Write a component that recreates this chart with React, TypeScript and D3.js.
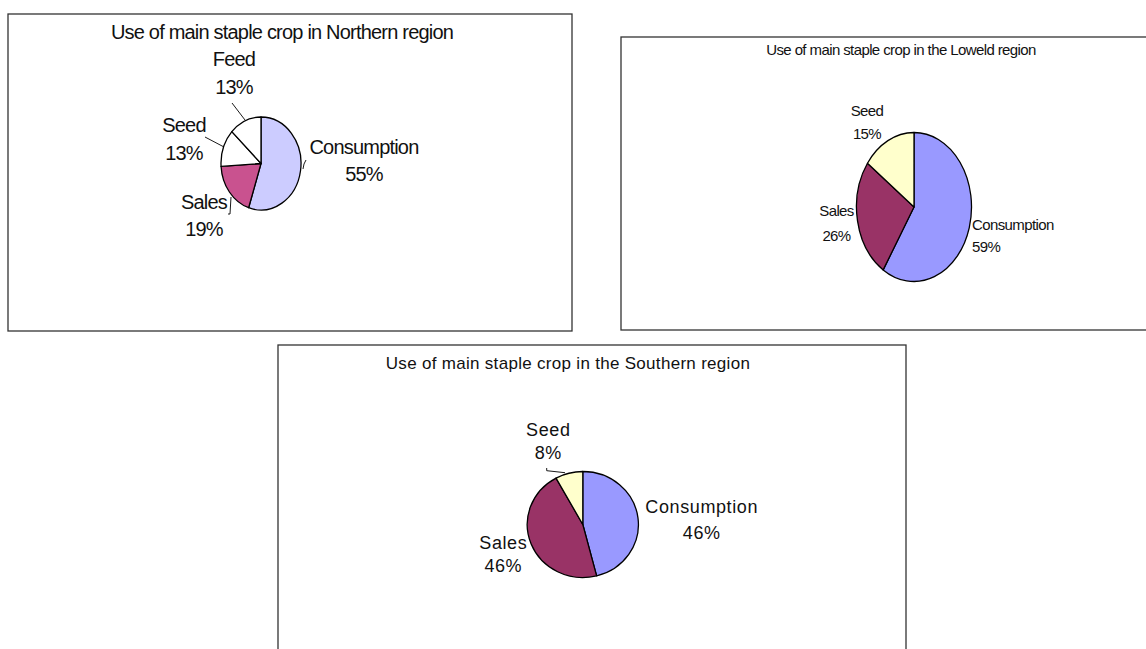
import React from 'react';
import * as d3 from 'd3';

// ---- data ----
const northCategories = ['Consumption', 'Sales', 'Seed', 'Feed'];
const northValues = [55, 19, 13, 13];

const lowveldCategories = ['Consumption', 'Sales', 'Seed'];
const lowveldValues = [59, 26, 15];

const southCategories = ['Consumption', 'Sales', 'Seed'];
const southValues = [46, 46, 8];

const northTitle = 'Use of main staple crop in Northern region';
const lowveldTitle = 'Use of main staple crop in the Loweld region';
const southTitle = 'Use of main staple crop in the Southern region';

// ---- layout ----
type Pt = [number, number];
interface PanelProps {
  title: string;
  categories: string[];
  values: number[];
  colors: string[];
  box: { x: number; y: number; w: number; h: number };
  titlePos: { x: number; y: number; size: number; ls: number };
  pie: { cx: number; cy: number; rx: number; ry: number };
  font: { size: number; ls: number };
  labels: { x: number; y1: number; y2: number; anchor: 'start' | 'middle' }[];
  leaders: Pt[][];
}

const FONT = '"Liberation Sans", Arial, Helvetica, sans-serif';

function PiePanel(p: PanelProps) {
  const pie = d3.pie<number>().sort(null).value((d: number) => d);
  const arcs = pie(p.values);
  const arc = d3.arc<d3.PieArcDatum<number>>().innerRadius(0).outerRadius(1);
  const base = (c: number, s: number) => c + 0.36 * s;
  const line = d3.line<Pt>();

  return (
    <g>
      <rect x={p.box.x} y={p.box.y} width={p.box.w} height={p.box.h}
        fill="#fff" stroke="#333" strokeWidth={1.3} />
      <text x={p.titlePos.x} y={base(p.titlePos.y, p.titlePos.size)} textAnchor="middle"
        fontSize={p.titlePos.size} letterSpacing={p.titlePos.ls} fill="#111" fontFamily={FONT}>
        {p.title}
      </text>
      <g transform={`translate(${p.pie.cx},${p.pie.cy}) scale(${p.pie.rx},${p.pie.ry})`}>
        {arcs.map((a, i) => (
          <path key={i} d={arc(a) as string} fill={p.colors[i]} stroke="#000"
            strokeWidth={1.3} vectorEffect="non-scaling-stroke" strokeLinejoin="round" />
        ))}
      </g>
      {p.leaders.map((pts, i) => (
        <path key={i} d={line(pts) as string} fill="none" stroke="#000" strokeWidth={0.9} />
      ))}
      {p.categories.map((c, i) => {
        const l = p.labels[i];
        const pct = `${Math.round((p.values[i] / d3.sum(p.values)) * 100)}%`;
        return (
          <g key={c} fontFamily={FONT} fontSize={p.font.size} letterSpacing={p.font.ls}
            fill="#111" textAnchor={l.anchor}>
            <text x={l.x} y={base(l.y1, p.font.size)}>{c}</text>
            <text x={l.x} y={base(l.y2, p.font.size)}>{pct}</text>
          </g>
        );
      })}
    </g>
  );
}

export default function App() {
  return (
    <svg width={1146} height={649} style={{ position: 'absolute', left: 0, top: 0, background: '#fff' }}>
      <PiePanel
        title={northTitle}
        categories={northCategories}
        values={northValues}
        colors={['#CCCCFF', '#C9528F', '#FFFFFF', '#FFFFFF']}
        box={{ x: 8, y: 14, w: 564, h: 317 }}
        titlePos={{ x: 282, y: 32, size: 20, ls: -0.8 }}
        pie={{ cx: 261, cy: 163.5, rx: 40, ry: 46.5 }}
        font={{ size: 20, ls: -0.8 }}
        labels={[
          { x: 364, y1: 147, y2: 174, anchor: 'middle' },
          { x: 204, y1: 201.7, y2: 228.3, anchor: 'middle' },
          { x: 184, y1: 125, y2: 152.7, anchor: 'middle' },
          { x: 234, y1: 58.3, y2: 86.7, anchor: 'middle' },
        ]}
        leaders={[
          [[303, 169], [304, 164], [306, 160]],
          [[228, 214], [230, 214], [231, 197]],
          [[205, 137], [224, 147]],
          [[232, 103], [245, 120]],
        ]}
      />
      <PiePanel
        title={lowveldTitle}
        categories={lowveldCategories}
        values={lowveldValues}
        colors={['#9999FF', '#993366', '#FFFFCC']}
        box={{ x: 621, y: 37, w: 540, h: 293 }}
        titlePos={{ x: 901, y: 50, size: 15, ls: -0.6 }}
        pie={{ cx: 914, cy: 207, rx: 57.5, ry: 74.5 }}
        font={{ size: 15, ls: -0.6 }}
        labels={[
          { x: 972, y1: 225, y2: 246.7, anchor: 'start' },
          { x: 836.5, y1: 210.7, y2: 236, anchor: 'middle' },
          { x: 867, y1: 110.7, y2: 134, anchor: 'middle' },
        ]}
        leaders={[]}
      />
      <PiePanel
        title={southTitle}
        categories={southCategories}
        values={southValues}
        colors={['#9999FF', '#993366', '#FFFFCC']}
        box={{ x: 278, y: 345, w: 628, h: 330 }}
        titlePos={{ x: 568, y: 363, size: 17, ls: 0.3 }}
        pie={{ cx: 582.8, cy: 524.5, rx: 55.5, ry: 53 }}
        font={{ size: 18, ls: 0.6 }}
        labels={[
          { x: 701.7, y1: 506.7, y2: 532.7, anchor: 'middle' },
          { x: 503.3, y1: 542.7, y2: 565.7, anchor: 'middle' },
          { x: 548.3, y1: 429.3, y2: 452.7, anchor: 'middle' },
        ]}
        leaders={[[[546.7, 468], [546.7, 470.7], [565, 472.7]]]}
      />
    </svg>
  );
}
